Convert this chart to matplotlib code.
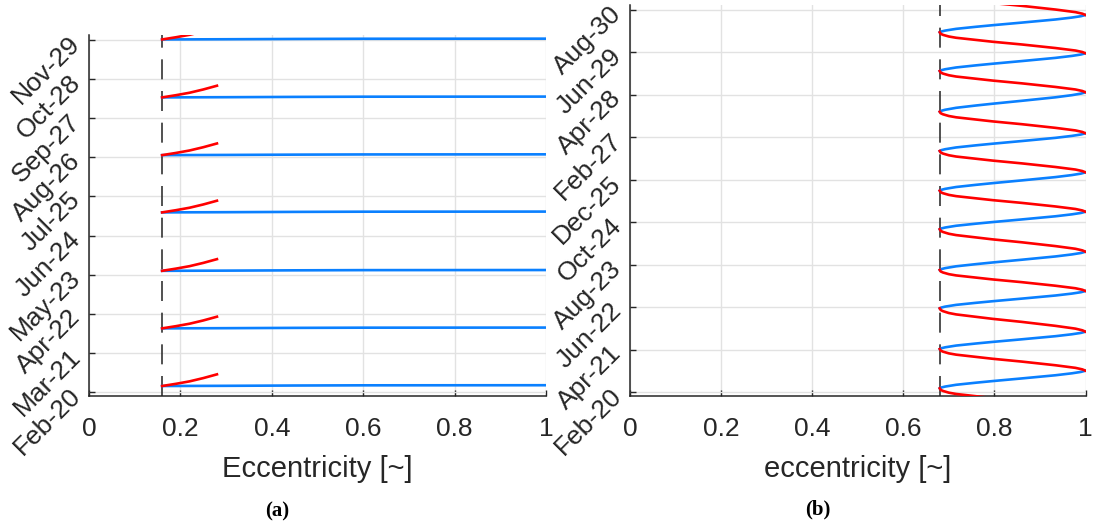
import numpy as np
import pandas as pd
import matplotlib
matplotlib.use("Agg")
import matplotlib.pyplot as plt
import matplotlib.dates as mdates

plt.rcParams['font.family'] = ['Liberation Sans', 'DejaVu Sans']

BLUE = "#0a80ff"
RED = "#ff0000"
DARK = "#262626"

# ---------------- panel (a) ----------------
# dates where the two branches meet at the minimum eccentricity
a_windows = ["2020-04-16", "2021-11-20", "2023-06-25", "2025-02-05",
             "2026-09-07", "2028-04-13", "2029-11-20"]
a_e_min = 0.16
# red branch: eccentricity vs days after the window date
a_red_e = [0.16, 0.19, 0.22, 0.25, 0.28]
a_red_days = [0, 22, 47, 80, 118]
# blue branch: almost flat
a_blue_e = [0.16, 0.30, 0.45, 0.60, 1.00]
a_blue_days = [0, 2, 5, 7, 8]
a_tick_labels = ["Feb-20", "Mar-21", "Apr-22", "May-23", "Jun-24",
                 "Jul-25", "Aug-26", "Sep-27", "Oct-28", "Nov-29"]
a_tick_range = ("2020-02-15", "2029-11-15")
a_ylim = ("2020-01-06", "2030-01-04")

# ---------------- panel (b) ----------------
b_e_min = 0.68
b_maxima = ["2019-08-21", "2020-09-19", "2021-10-15", "2022-11-27", "2023-12-26",
            "2025-01-30", "2026-03-01", "2027-03-28", "2028-05-12", "2029-06-07",
            "2030-06-26"]
b_minima = ["2020-03-26", "2021-04-24", "2022-06-06", "2023-06-26", "2024-08-07",
            "2025-08-29", "2026-10-01", "2027-10-30", "2028-12-11", "2030-01-03",
            "2031-01-30"]
# shape of one rising (blue) and one falling (red) branch,
# as fraction of the time between the turning points
b_rise_e = [0.680, 0.684, 0.692, 0.716, 0.760, 0.796, 0.860, 0.934, 0.970, 0.990, 1.000]
b_rise_frac = [0.00, 0.05, 0.10, 0.20, 0.32, 0.41, 0.56, 0.74, 0.85, 0.93, 1.00]
b_fall_e = [1.000, 0.993, 0.978, 0.934, 0.860, 0.796, 0.716, 0.700, 0.687, 0.682, 0.680]
b_fall_frac = [0.00, 0.06, 0.13, 0.25, 0.42, 0.55, 0.74, 0.80, 0.88, 0.93, 1.00]
b_tick_labels = ["Feb-20", "Apr-21", "Jun-22", "Aug-23", "Oct-24",
                 "Dec-25", "Feb-27", "Apr-28", "Jun-29", "Aug-30"]
b_tick_range = ("2020-02-15", "2030-08-15")
b_ylim = ("2020-01-12", "2030-10-04")

x_ticks = [0, 0.2, 0.4, 0.6, 0.8, 1]
x_tick_labels = ["0", "0.2", "0.4", "0.6", "0.8", "1"]


def to_num(d):
    return mdates.date2num(pd.to_datetime(d))


def style_axes(ax, tick_labels, tick_range, ylim, xlabel, label_y):
    t0, t1 = to_num(tick_range[0]), to_num(tick_range[1])
    ax.set_yticks(np.linspace(t0, t1, len(tick_labels)))
    ax.set_yticklabels(tick_labels, rotation=45, ha="right", va="center",
                       rotation_mode="anchor")
    ax.set_ylim(to_num(ylim[0]), to_num(ylim[1]))
    ax.set_xlim(0, 1)
    ax.set_xticks(x_ticks)
    ax.set_xticklabels(x_tick_labels)
    ax.grid(True, color="#e2e2e2", linewidth=1.0)
    ax.set_axisbelow(True)
    for s in ["top", "right"]:
        ax.spines[s].set_visible(False)
    for s in ["left", "bottom"]:
        ax.spines[s].set_color(DARK)
        ax.spines[s].set_linewidth(1.1)
    ax.tick_params(direction="in", length=4, width=1, colors=DARK, labelsize=19)
    ax.tick_params(axis="x", pad=15)
    ax.tick_params(axis="y", pad=9)
    ax.set_xlabel(xlabel, fontsize=21, color=DARK)
    ax.xaxis.set_label_coords(0.5, label_y)


fig = plt.figure(figsize=(10.93, 5.25), dpi=100)

# (a)
ax1 = fig.add_axes([89 / 1093, 129 / 525, 457 / 1093, 361 / 525])
ax1.axvline(a_e_min, color="#333333", linewidth=1.2, dashes=(12, 7), zorder=2)
for w in a_windows:
    t = to_num(w)
    ax1.plot(a_blue_e, t + np.array(a_blue_days), color=BLUE, lw=1.9, zorder=3)
    ax1.plot(a_red_e, t + np.array(a_red_days), color=RED, lw=1.9, zorder=4)
style_axes(ax1, a_tick_labels, a_tick_range, a_ylim, "Eccentricity [~]", -0.163)

# (b)
ax2 = fig.add_axes([630 / 1093, 129.3 / 525, 455.5 / 1093, 390.7 / 525])
ax2.axvline(b_e_min, color="#333333", linewidth=1.2, dashes=(12, 7), zorder=2)
mx = to_num(b_maxima)
mn = to_num(b_minima)
for i in range(len(mn)):
    # falling branch from max i to min i
    ax2.plot(b_fall_e, mx[i] + np.array(b_fall_frac) * (mn[i] - mx[i]),
             color=RED, lw=1.9, zorder=4)
    # rising branch from min i to next max
    if i + 1 < len(mx):
        ax2.plot(b_rise_e, mn[i] + np.array(b_rise_frac) * (mx[i + 1] - mn[i]),
                 color=BLUE, lw=1.9, zorder=3)
style_axes(ax2, b_tick_labels, b_tick_range, b_ylim, "eccentricity [~]", -0.152)

fig.text(277 / 1093, 1 - 511 / 525, "(a)", ha="center", va="center",
         fontsize=15, fontweight="bold", family="Liberation Serif")
fig.text(818 / 1093, 1 - 509 / 525, "(b)", ha="center", va="center",
         fontsize=15, fontweight="bold", family="Liberation Serif")

fig.savefig("out.png", dpi=100)
